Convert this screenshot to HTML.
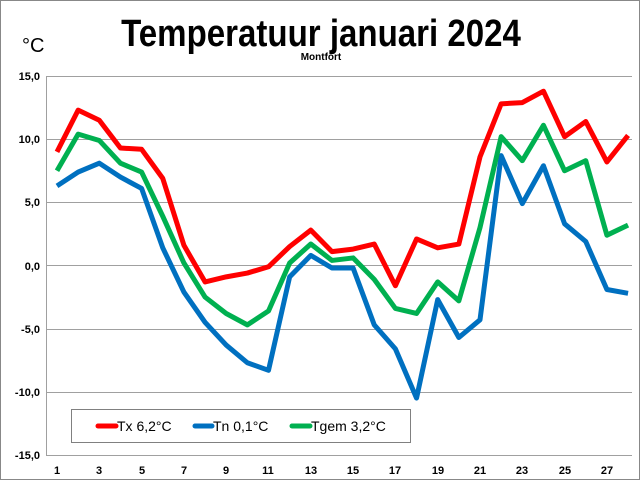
<!DOCTYPE html>
<html><head><meta charset="utf-8"><style>
html,body{margin:0;padding:0;background:#fff;}
svg{display:block;font-family:"Liberation Sans",Arial,sans-serif;}
</style></head><body>
<svg width="640" height="480" viewBox="0 0 640 480">
<rect x="0.5" y="0.5" width="639" height="479" fill="#fff" stroke="#888"/>
<text x="321" y="46" text-anchor="middle" font-size="38" font-weight="bold" transform="translate(321,0) scale(0.87,1) translate(-321,0)">Temperatuur januari 2024</text>
<text x="321" y="60" text-anchor="middle" font-size="10" font-weight="bold">Montfort</text>
<text x="22" y="52" font-size="20">°C</text>
<g stroke="#a0a0a0" stroke-width="1">
<line x1="46" y1="76.5" x2="632" y2="76.5"/>
<line x1="46" y1="139.5" x2="632" y2="139.5"/>
<line x1="46" y1="202.5" x2="632" y2="202.5"/>
<line x1="46" y1="265.5" x2="632" y2="265.5"/>
<line x1="46" y1="329.5" x2="632" y2="329.5"/>
<line x1="46" y1="392.5" x2="632" y2="392.5"/>
<line x1="46" y1="455.5" x2="632" y2="455.5"/>
<line x1="46.5" y1="76" x2="46.5" y2="456"/>
</g>
<g font-size="11" font-weight="bold" text-anchor="end">
<text x="40" y="80">15,0</text>
<text x="40" y="143">10,0</text>
<text x="40" y="206">5,0</text>
<text x="40" y="270">0,0</text>
<text x="40" y="333">-5,0</text>
<text x="40" y="396">-10,0</text>
<text x="40" y="459">-15,0</text>
</g>
<g font-size="11" font-weight="bold" text-anchor="middle">
<text x="57" y="474">1</text><text x="99" y="474">3</text><text x="142" y="474">5</text><text x="184" y="474">7</text><text x="226" y="474">9</text><text x="268" y="474">11</text><text x="311" y="474">13</text><text x="353" y="474">15</text><text x="395" y="474">17</text><text x="438" y="474">19</text><text x="480" y="474">21</text><text x="522" y="474">23</text><text x="565" y="474">25</text><text x="607" y="474">27</text>
</g>
<g transform="translate(57,265.5) scale(21.15,-12.63)" fill="none" stroke-linejoin="round">
<polyline vector-effect="non-scaling-stroke" stroke="#ff0000" stroke-width="5" points="0,9.0 1,12.3 2,11.5 3,9.3 4,9.2 5,6.9 6,1.6 7,-1.3 8,-0.9 9,-0.6 10,-0.1 11,1.5 12,2.8 13,1.1 14,1.3 15,1.7 16,-1.6 17,2.1 18,1.4 19,1.7 20,8.6 21,12.8 22,12.9 23,13.8 24,10.2 25,11.4 26,8.2 27,10.3"/>
<polyline vector-effect="non-scaling-stroke" stroke="#0070c0" stroke-width="5" points="0,6.3 1,7.4 2,8.1 3,7.0 4,6.1 5,1.4 6,-2.1 7,-4.5 8,-6.3 9,-7.7 10,-8.3 11,-0.9 12,0.8 13,-0.2 14,-0.2 15,-4.7 16,-6.6 17,-10.5 18,-2.7 19,-5.7 20,-4.3 21,8.7 22,4.9 23,7.9 24,3.3 25,1.9 26,-1.9 27,-2.2"/>
<polyline vector-effect="non-scaling-stroke" stroke="#00b050" stroke-width="5" points="0,7.5 1,10.4 2,9.9 3,8.1 4,7.4 5,3.9 6,0.2 7,-2.5 8,-3.8 9,-4.7 10,-3.6 11,0.2 12,1.7 13,0.4 14,0.6 15,-1.1 16,-3.4 17,-3.8 18,-1.3 19,-2.8 20,3.0 21,10.2 22,8.3 23,11.1 24,7.5 25,8.3 26,2.4 27,3.2"/>
</g>
<rect x="71.5" y="409.5" width="339" height="33" fill="#fff" stroke="#808080"/>
<g stroke-width="5" stroke-linecap="round">
<line x1="98" y1="426" x2="116" y2="426" stroke="#ff0000"/>
<line x1="195" y1="426" x2="212" y2="426" stroke="#0070c0"/>
<line x1="292" y1="426" x2="310" y2="426" stroke="#00b050"/>
</g>
<g font-size="14">
<text x="117" y="431">Tx 6,2°C</text>
<text x="213" y="431">Tn 0,1°C</text>
<text x="311" y="431">Tgem 3,2°C</text>
</g>
</svg>
</body></html>
